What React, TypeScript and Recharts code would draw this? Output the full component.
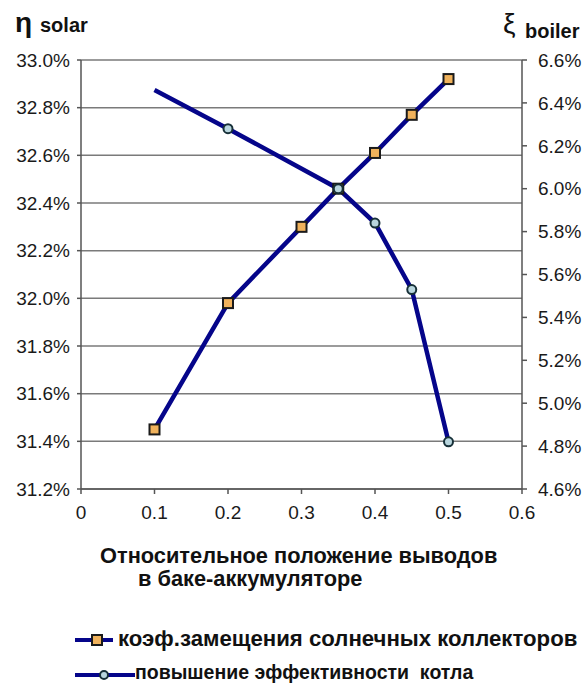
import React from "react";
import { LineChart, Line, XAxis, YAxis, CartesianGrid } from "recharts";

// коэф. замещения солнечных коллекторов (левая ось, %)
const solarX = [0.1, 0.2, 0.3, 0.35, 0.4, 0.45, 0.5];
const solarY = [31.45, 31.98, 32.3, 32.46, 32.61, 32.77, 32.92];

// повышение эффективности котла (правая ось, %)
const boilerX = [0.1, 0.2, 0.35, 0.4, 0.45, 0.5];
const boilerY = [6.46, 6.28, 6.0, 5.84, 5.53, 4.82];

const xTicks = [0, 0.1, 0.2, 0.3, 0.4, 0.5, 0.6];
const leftTicks = [31.2, 31.4, 31.6, 31.8, 32.0, 32.2, 32.4, 32.6, 32.8, 33.0];
const rightTicks = [4.6, 4.8, 5.0, 5.2, 5.4, 5.6, 5.8, 6.0, 6.2, 6.4, 6.6];

const solarName = "коэф.замещения солнечных коллекторов";
const boilerName = "повышение эффективности  котла";

const solarData = solarX.map((x, i) => ({ x, v: solarY[i] }));
const boilerData = boilerX.map((x, i) => ({ x, v: boilerY[i] }));

const FONT = "'Liberation Sans', Arial, sans-serif";
const NAVY = "#05058a";
const tickStyle = { fontSize: 19, fill: "#1a1a1a", fontFamily: FONT };

const SquareDot = (props: any) => {
  const { cx, cy, index } = props;
  if (cx == null || cy == null) return <g key={index} />;
  return (
    <rect key={index} x={cx - 5} y={cy - 5} width={10} height={10} fill="#f0b25c" stroke="#1a1a1a" strokeWidth={2} />
  );
};

const CircleDot = (props: any) => {
  const { cx, cy, index } = props;
  if (cx == null || cy == null || index === 0) return <g key={index} />;
  return <circle key={index} cx={cx} cy={cy} r={4.5} fill="#b9d6de" stroke="#173038" strokeWidth={2} />;
};

export default function App() {
  return (
    <div style={{ position: "absolute", left: 0, top: 0, width: 588, height: 684, background: "#fff" }}>
      <LineChart width={588} height={684} margin={{ top: 60, right: 6, bottom: 165, left: 6 }}>
        <CartesianGrid yAxisId="left" vertical={false} stroke="#7a7a7a" strokeWidth={1.5} />
        <XAxis
          type="number"
          dataKey="x"
          domain={[0, 0.6]}
          ticks={xTicks}
          tickFormatter={(v: number) => (v === 0 ? "0" : String(v))}
          tick={tickStyle}
          height={30}
          tickSize={5}
          tickMargin={12}
          stroke="#555"
          strokeWidth={1.5}
        />
        <YAxis
          yAxisId="left"
          orientation="left"
          domain={[31.2, 33.0]}
          ticks={leftTicks}
          tickFormatter={(v: number) => v.toFixed(1) + "%"}
          tick={tickStyle}
          width={75}
          tickSize={4}
          tickMargin={7}
          stroke="#555"
          strokeWidth={1.5}
          interval={0}
        />
        <YAxis
          yAxisId="right"
          orientation="right"
          domain={[4.6, 6.6]}
          ticks={rightTicks}
          tickFormatter={(v: number) => v.toFixed(1) + "%"}
          tick={tickStyle}
          width={60}
          tickSize={5}
          tickMargin={11}
          stroke="#555"
          strokeWidth={1.5}
          interval={0}
        />
        <Line
          yAxisId="left"
          data={solarData}
          dataKey="v"
          type="linear"
          stroke={NAVY}
          strokeWidth={4.5}
          dot={SquareDot}
          isAnimationActive={false}
        />
        <Line
          yAxisId="right"
          data={boilerData}
          dataKey="v"
          type="linear"
          stroke={NAVY}
          strokeWidth={4.5}
          dot={CircleDot}
          isAnimationActive={false}
        />
      </LineChart>
      <svg
        width={588}
        height={684}
        style={{ position: "absolute", left: 0, top: 0, pointerEvents: "none" }}
        fontFamily={FONT}
      >
        <text x={15} y={32} fontSize={28} fontWeight="bold" fill="#111">η</text>
        <text x={40} y={32} fontSize={20} fontWeight="bold" fill="#111">solar</text>
        <text x={503} y={33} fontSize={28} fill="#111">ξ</text>
        <text x={525} y={38} fontSize={20} fontWeight="bold" fill="#111">boiler</text>

        <text x={100} y={563} fontSize={21.8} fontWeight="bold" fill="#111">Относительное положение выводов</text>
        <text x={138} y={586} fontSize={21.8} fontWeight="bold" fill="#111">в баке-аккумуляторе</text>

        <line x1={75} y1={640} x2={113} y2={640} stroke={NAVY} strokeWidth={4} />
        <rect x={92} y={635} width={10} height={10} fill="#f0b25c" stroke="#1a1a1a" strokeWidth={2} />
        <text x={118} y={646} fontSize={22.2} fontWeight="bold" fill="#111">{solarName}</text>

        <line x1={75} y1={675} x2={135} y2={675} stroke={NAVY} strokeWidth={4} />
        <circle cx={104} cy={675} r={4} fill="#b9d6de" stroke="#173038" strokeWidth={2} />
        <text x={135} y={679} fontSize={19.5} fontWeight="bold" fill="#111" style={{ whiteSpace: "pre" }}>{boilerName}</text>
      </svg>
    </div>
  );
}
